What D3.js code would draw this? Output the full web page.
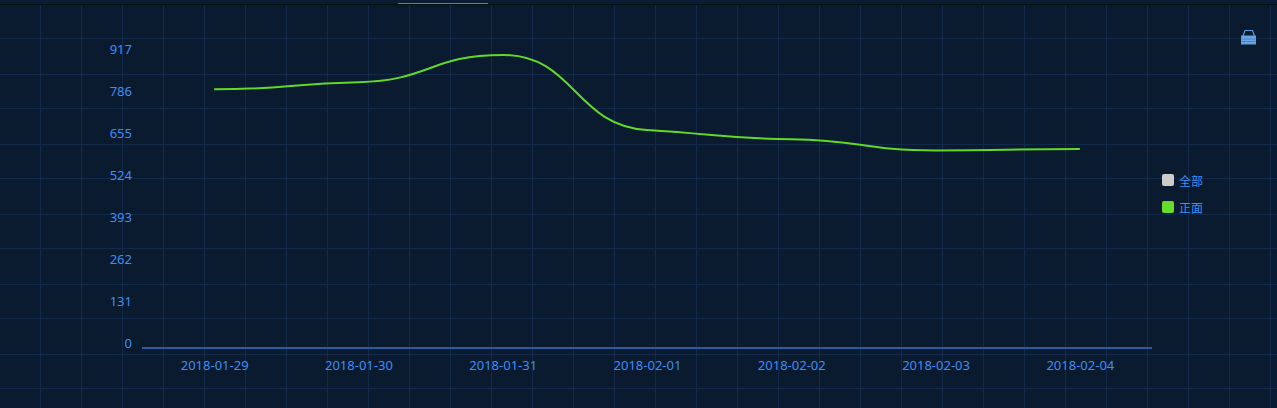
<!DOCTYPE html>
<html><head><meta charset="utf-8">
<script src="https://cdn.jsdelivr.net/npm/d3@7/dist/d3.min.js"></script>
<style>html,body{margin:0;padding:0;background:#0a1a2f;overflow:hidden}svg{display:block}text{font-family:"Noto Sans","Open Sans",sans-serif}</style>
</head><body><svg id="c" width="1277" height="408"></svg>
<script>
const dates=["2018-01-29","2018-01-30","2018-01-31","2018-02-01","2018-02-02","2018-02-03","2018-02-04"];
const positive=[807,829,914,680,651,616,621];
const yTicks=[0,131,262,393,524,655,786,917];
const legendNames=["全部","正面"];
const legendColors=["#cccccc","#66dd2a"];
const gridX=d3.range(40.5,1277,41);
const gridY=[38,74,108,144,178,214,248,284,318,354,388];
const svg=d3.select("#c");
const W=1277,H=408;
svg.append("rect").attr("width",W).attr("height",H).attr("fill","#0a1a2f");
const g=svg.append("g").attr("stroke","#12294a").attr("stroke-width",1);
g.selectAll(".v").data(gridX).join("line").attr("x1",d=>d).attr("x2",d=>d).attr("y1",4).attr("y2",H);
g.selectAll(".h").data(gridY).join("line").attr("x1",0).attr("x2",W).attr("y1",d=>d+.5).attr("y2",d=>d+.5);
svg.append("rect").attr("width",W).attr("height",4).attr("fill","#0b1d33");
svg.append("rect").attr("y",4).attr("width",W).attr("height",1).attr("fill","#020a12");
svg.append("rect").attr("x",398).attr("y",3).attr("width",90).attr("height",1).attr("fill","#1b9cc4");
const x=d3.scaleBand().domain(dates).range([142,1152]);
const y=d3.scaleLinear().domain([0,917]).range([348,54]);
svg.append("line").attr("x1",142).attr("x2",1152).attr("y1",348).attr("y2",348).attr("stroke","#2f5c9e").attr("stroke-width",2);
const blue="#3f8ef5";
svg.selectAll(".yl").data(yTicks).join("text").attr("x",132).attr("y",d=>y(d)-5).attr("dy",".35em").attr("text-anchor","end").attr("font-size",13).attr("fill",blue).text(d=>d);
svg.selectAll(".xl").data(dates).join("text").attr("x",d=>x(d)+x.bandwidth()/2+.5).attr("y",370).attr("text-anchor","middle").attr("font-size",13).attr("fill",blue).text(d=>d);
// Smooth curve in the manner of the original chart library: long handles, flat at local extrema.
function softCurve(context){
  let pts;
  return {
    areaStart(){},areaEnd(){},
    lineStart(){pts=[];},
    point(a,b){pts.push([+a,+b]);},
    lineEnd(){
      const n=pts.length,m=pts.map((p,i)=>{
        if(i===0||i===n-1) return 0;
        const a=pts[i-1],b=pts[i+1];
        if((p[1]-a[1])*(b[1]-p[1])<=0) return 0;
        return .2*(b[1]-a[1])/(b[0]-a[0]);
      });
      context.moveTo(pts[0][0],pts[0][1]);
      for(let i=1;i<n;i++){
        const p=pts[i-1],q=pts[i],h=(q[0]-p[0])/2;
        context.bezierCurveTo(p[0]+h,p[1]+h*m[i-1],q[0]-h,q[1]-h*m[i],q[0],q[1]);
      }
    }
  };
}
const line=d3.line().x((d,i)=>x(dates[i])+x.bandwidth()/2).y(d=>y(d)).curve(softCurve);
svg.append("path").attr("d",line(positive)).attr("fill","none").attr("stroke","#62d92a").attr("stroke-width",2);
const lg=svg.selectAll(".lg").data(legendNames).join("g").attr("transform",(d,i)=>`translate(1162,${174+i*27})`);
lg.append("rect").attr("width",12).attr("height",12).attr("rx",2).attr("fill",(d,i)=>legendColors[i]);
lg.append("text").attr("x",17).attr("y",12).attr("font-size",12).attr("fill",blue).style("font-family","'Noto Sans CJK SC'").text(d=>d);
const ic=svg.append("g").attr("transform","translate(1241,29)").attr("fill","none").attr("stroke","#5b9be0");
ic.append("path").attr("d","M2 7 L4 1.5 H11.5 L13.5 7").attr("stroke-width",1.2);
ic.append("rect").attr("x",.5).attr("y",7).attr("width",14).attr("height",8).attr("fill","#6fa8e8").attr("stroke","#5b9be0");
ic.append("line").attr("x1",1).attr("x2",14).attr("y1",10).attr("y2",10).attr("stroke","#3f74b5").attr("stroke-width",.8);
ic.append("line").attr("x1",1).attr("x2",14).attr("y1",12.5).attr("y2",12.5).attr("stroke","#3f74b5").attr("stroke-width",.8);
</script></body></html>
